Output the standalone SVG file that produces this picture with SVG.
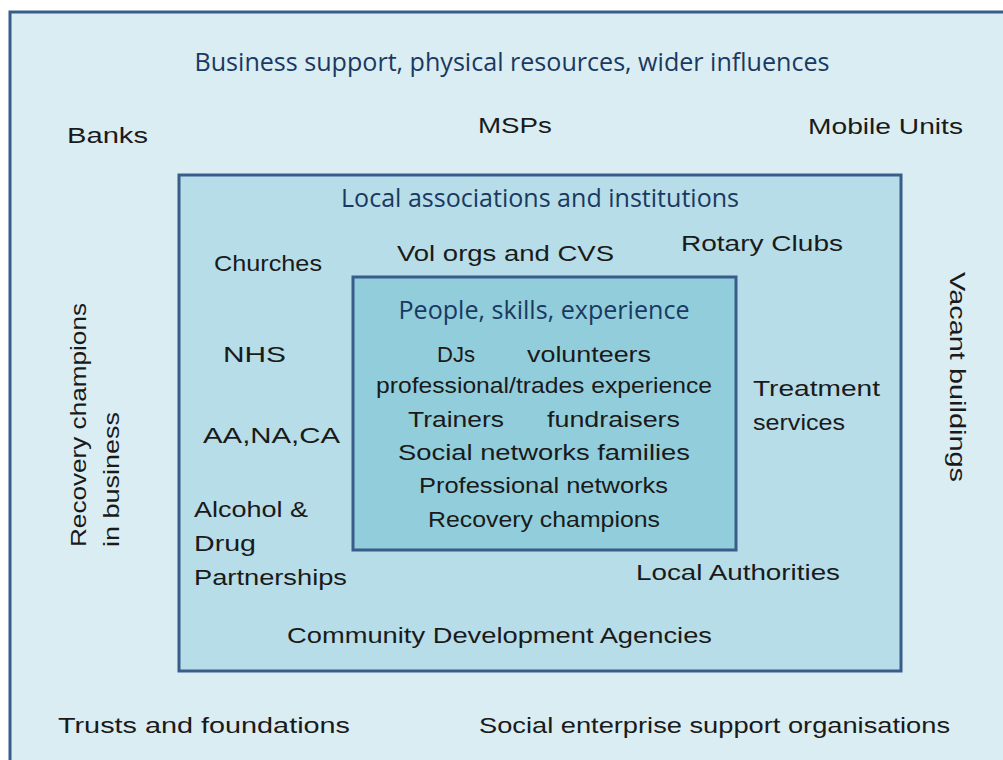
<svg xmlns="http://www.w3.org/2000/svg" width="1003" height="760" viewBox="0 0 1003 760">
<style>
.box{stroke:#385D8A;stroke-width:3}
.title{font-family:"Open Sans","Liberation Sans",sans-serif;fill:#1A3961;font-size:25px;text-anchor:middle}
.hw{font-family:"Liberation Sans","DejaVu Sans",sans-serif;fill:#1a1a1a;font-size:22px}
</style>
<rect width="1003" height="760" fill="#ffffff"/>
<g id="outer">
<rect class="box" x="10" y="12" width="1000" height="760" fill="#DAEDF3"/>
<text class="title" x="512" y="71" textLength="635" lengthAdjust="spacingAndGlyphs">Business support, physical resources, wider influences</text>
<text class="hw" x="67" y="143" textLength="81" lengthAdjust="spacingAndGlyphs">Banks</text>
<text class="hw" x="478" y="133" textLength="74" lengthAdjust="spacingAndGlyphs">MSPs</text>
<text class="hw" x="808" y="134" textLength="155" lengthAdjust="spacingAndGlyphs">Mobile Units</text>
<text class="hw" transform="translate(86,547) rotate(-90)" textLength="244" lengthAdjust="spacingAndGlyphs">Recovery champions</text>
<text class="hw" transform="translate(119,547) rotate(-90)" textLength="135" lengthAdjust="spacingAndGlyphs">in business</text>
<text class="hw" transform="translate(950,272) rotate(90)" textLength="210" lengthAdjust="spacingAndGlyphs">Vacant buildings</text>
<text class="hw" x="58" y="733" textLength="292" lengthAdjust="spacingAndGlyphs">Trusts and foundations</text>
<text class="hw" x="479" y="733" textLength="471" lengthAdjust="spacingAndGlyphs">Social enterprise support organisations</text>
</g>
<g id="middle">
<rect class="box" x="179" y="175" width="722" height="496" fill="#B7DDE8"/>
<text class="title" x="540" y="207" textLength="398" lengthAdjust="spacingAndGlyphs">Local associations and institutions</text>
<text class="hw" x="214" y="271" textLength="108" lengthAdjust="spacingAndGlyphs">Churches</text>
<text class="hw" x="397" y="261" textLength="217" lengthAdjust="spacingAndGlyphs">Vol orgs and CVS</text>
<text class="hw" x="681" y="251" textLength="162" lengthAdjust="spacingAndGlyphs">Rotary Clubs</text>
<text class="hw" x="223" y="362" textLength="63" lengthAdjust="spacingAndGlyphs">NHS</text>
<text class="hw" x="203" y="443" textLength="137" lengthAdjust="spacingAndGlyphs">AA,NA,CA</text>
<text class="hw" x="194" y="517" textLength="114" lengthAdjust="spacingAndGlyphs">Alcohol &amp;</text>
<text class="hw" x="194" y="551" textLength="62" lengthAdjust="spacingAndGlyphs">Drug</text>
<text class="hw" x="194" y="585" textLength="153" lengthAdjust="spacingAndGlyphs">Partnerships</text>
<text class="hw" x="753" y="396" textLength="127" lengthAdjust="spacingAndGlyphs">Treatment</text>
<text class="hw" x="753" y="430" textLength="92" lengthAdjust="spacingAndGlyphs">services</text>
<text class="hw" x="636" y="580" textLength="204" lengthAdjust="spacingAndGlyphs">Local Authorities</text>
<text class="hw" x="287" y="643" textLength="425" lengthAdjust="spacingAndGlyphs">Community Development Agencies</text>
</g>
<g id="inner">
<rect class="box" x="353" y="277" width="383" height="273" fill="#92CDDC"/>
<text class="title" x="544" y="319" textLength="291" lengthAdjust="spacingAndGlyphs">People, skills, experience</text>
<text class="hw" x="437" y="362" textLength="38" lengthAdjust="spacingAndGlyphs">DJs</text>
<text class="hw" x="527" y="362" textLength="124" lengthAdjust="spacingAndGlyphs">volunteers</text>
<text class="hw" x="376" y="393" textLength="336" lengthAdjust="spacingAndGlyphs">professional/trades experience</text>
<text class="hw" x="408" y="427" textLength="96" lengthAdjust="spacingAndGlyphs">Trainers</text>
<text class="hw" x="547" y="427" textLength="133" lengthAdjust="spacingAndGlyphs">fundraisers</text>
<text class="hw" x="398" y="460" textLength="292" lengthAdjust="spacingAndGlyphs">Social networks  families</text>
<text class="hw" x="419" y="493" textLength="249" lengthAdjust="spacingAndGlyphs">Professional networks</text>
<text class="hw" x="428" y="527" textLength="232" lengthAdjust="spacingAndGlyphs">Recovery champions</text>
</g>
</svg>
